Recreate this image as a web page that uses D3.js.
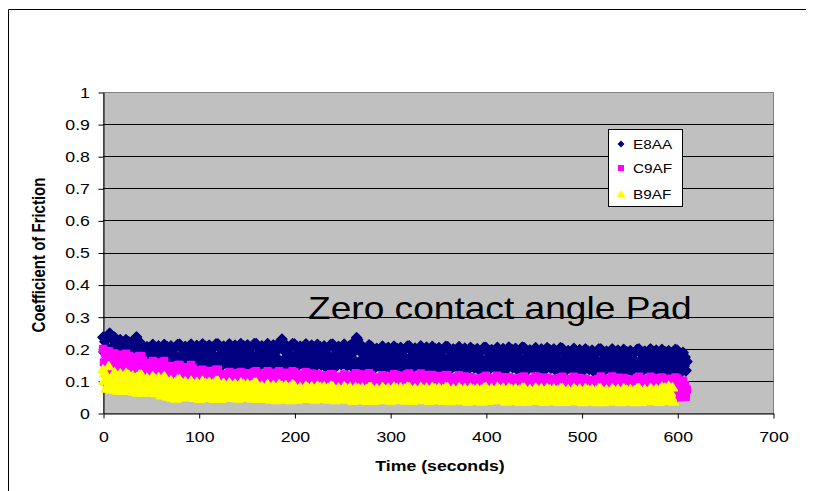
<!DOCTYPE html>
<html>
<head>
<meta charset="utf-8">
<script src="https://cdn.jsdelivr.net/npm/d3@7"></script>
<style>
  html, body { margin: 0; padding: 0; background: #ffffff; }
  svg { display: block; font-family: "Liberation Sans", Arial, sans-serif; }
</style>
</head>
<body>
<svg id="chart" width="817" height="491"></svg>
<script>
// Friction test log: coefficient of friction sampled once per second.
const sampleStep = 1; // seconds between logged samples
const seriesNames = ["E8AA", "C9AF", "B9AF"];
const chartNote = "Zero contact angle Pad";
const xTitle = "Time (seconds)";
const yTitle = "Coefficient of Friction";
const xTicks = [0, 100, 200, 300, 400, 500, 600, 700];
const xTickLabels = ["0", "100", "200", "300", "400", "500", "600", "700"];
const yTicks = [0, 0.1, 0.2, 0.3, 0.4, 0.5, 0.6, 0.7, 0.8, 0.9, 1];
const yTickLabels = ["0", "0.1", "0.2", "0.3", "0.4", "0.5", "0.6", "0.7", "0.8", "0.9", "1"];

const e8aa = [
  .236,.190,.222,.150,.205,.172,.244,.248,.200,.158,.230,.182,.236,.166,.214,.152,.196,.174,.228,.160,
  .200,.158,.214,.179,.228,.172,.193,.221,.165,.207,.182,.224,.161,.200,.232,.237,.158,.189,.222,.168,
  .213,.171,.199,.143,.185,.157,.206,.164,.192,.150,.178,.153,.213,.174,.202,.146,.188,.160,.209,.167,
  .185,.143,.199,.164,.213,.157,.178,.206,.150,.192,.167,.209,.146,.185,.160,.202,.143,.174,.213,.153,
  .214,.172,.200,.144,.186,.158,.207,.165,.193,.151,.179,.154,.214,.175,.203,.147,.189,.161,.210,.168,
  .187,.145,.201,.166,.215,.159,.180,.208,.152,.194,.169,.211,.148,.187,.162,.204,.145,.176,.215,.155,
  .215,.173,.201,.145,.187,.159,.208,.166,.194,.152,.180,.155,.215,.176,.204,.148,.190,.162,.211,.169,
  .188,.146,.202,.167,.216,.160,.181,.209,.153,.195,.170,.212,.149,.188,.163,.205,.146,.177,.216,.156,
  .216,.174,.202,.146,.188,.160,.209,.167,.195,.153,.181,.156,.216,.177,.205,.149,.191,.163,.212,.170,
  .188,.146,.202,.167,.216,.160,.226,.230,.153,.195,.170,.212,.149,.188,.163,.205,.146,.177,.216,.156,
  .215,.173,.201,.145,.187,.159,.208,.166,.194,.152,.180,.155,.215,.176,.204,.148,.190,.162,.211,.169,
  .185,.143,.199,.164,.213,.157,.178,.206,.150,.192,.167,.209,.146,.185,.160,.202,.143,.174,.213,.153,
  .214,.172,.200,.144,.186,.158,.207,.165,.193,.151,.179,.154,.214,.175,.203,.147,.189,.161,.210,.168,
  .184,.142,.198,.163,.226,.234,.228,.205,.149,.191,.166,.208,.145,.184,.159,.201,.142,.173,.212,.152,
  .208,.166,.194,.138,.180,.152,.201,.159,.187,.145,.173,.148,.208,.169,.197,.141,.183,.155,.204,.162,
  .180,.138,.194,.159,.208,.152,.173,.201,.145,.187,.162,.204,.141,.180,.155,.197,.138,.169,.208,.148,
  .209,.167,.195,.139,.181,.153,.202,.160,.188,.146,.174,.149,.209,.170,.198,.142,.184,.156,.205,.163,
  .179,.137,.193,.158,.207,.151,.172,.200,.144,.186,.161,.203,.140,.179,.154,.196,.137,.168,.207,.147,
  .206,.164,.192,.136,.178,.150,.199,.157,.185,.143,.171,.146,.206,.167,.195,.139,.181,.153,.202,.160,
  .176,.134,.190,.155,.204,.148,.169,.197,.141,.183,.158,.200,.137,.176,.151,.193,.134,.165,.204,.144,
  .204,.162,.190,.134,.176,.148,.197,.155,.183,.141,.169,.144,.204,.165,.193,.137,.179,.151,.200,.158,
  .177,.135,.191,.156,.205,.149,.170,.198,.142,.184,.159,.201,.138,.177,.152,.194,.135,.166,.205,.145,
  .203,.161,.189,.133,.175,.147,.196,.154,.182,.140,.168,.143,.203,.164,.192,.136,.178,.150,.199,.157,
  .175,.133,.189,.154,.203,.147,.168,.196,.140,.182,.157,.199,.136,.175,.150,.192,.133,.164,.203,.143,
  .201,.159,.187,.131,.173,.145,.194,.152,.180,.138,.166,.141,.201,.162,.190,.134,.176,.148,.197,.155,
  .171,.129,.185,.150,.199,.143,.164,.192,.136,.178,.153,.195,.132,.171,.146,.188,.129,.160,.199,.139,
  .199,.157,.185,.129,.171,.143,.192,.150,.178,.136,.164,.139,.199,.160,.188,.132,.174,.146,.195,.153,
  .170,.128,.184,.149,.198,.142,.163,.191,.135,.177,.152,.194,.131,.170,.145,.187,.128,.159,.198,.138,
  .199,.157,.185,.129,.171,.143,.192,.150,.178,.136,.164,.139,.199,.160,.188,.132,.174,.146,.195,.153,
  .170,.128,.184,.149,.198,.142,.163,.191,.135,.177,.152,.194,.131,.170,.145,.187,.128,.159,.198,.138,
  .195,.153,.181,.125,.167,.139,.188,.146,.174,.132,.160
];

const c9af = [
  .200,.158,.186,.130,.172,.144,.193,.151,.179,.137,.151,.126,.186,.147,.175,.119,.161,.133,.182,.140,
  .157,.115,.171,.136,.185,.129,.150,.178,.122,.164,.132,.174,.111,.150,.125,.167,.108,.139,.178,.118,
  .177,.135,.163,.107,.149,.106,.155,.113,.141,.099,.127,.102,.162,.123,.151,.095,.137,.109,.158,.116,
  .134,.092,.148,.113,.162,.094,.115,.143,.087,.129,.104,.146,.083,.122,.097,.139,.080,.111,.150,.090,
  .150,.108,.136,.080,.122,.094,.143,.101,.129,.087,.115,.090,.150,.111,.139,.069,.111,.083,.132,.090,
  .107,.065,.121,.086,.135,.079,.100,.128,.072,.114,.089,.131,.068,.107,.082,.124,.065,.096,.135,.075,
  .135,.093,.121,.065,.107,.072,.121,.079,.107,.065,.093,.068,.128,.089,.117,.061,.103,.075,.124,.082,
  .100,.058,.114,.079,.128,.072,.093,.121,.065,.107,.082,.124,.061,.100,.075,.117,.058,.089,.128,.068,
  .130,.088,.116,.060,.102,.074,.123,.081,.109,.067,.095,.070,.130,.091,.119,.063,.105,.077,.126,.084,
  .102,.060,.116,.081,.130,.074,.095,.123,.067,.109,.084,.126,.063,.102,.077,.119,.060,.091,.130,.070,
  .127,.085,.113,.057,.099,.071,.120,.078,.106,.064,.092,.067,.127,.088,.116,.060,.102,.074,.123,.081,
  .093,.051,.107,.072,.121,.065,.086,.114,.058,.100,.075,.117,.054,.093,.068,.110,.051,.082,.121,.061,
  .120,.078,.106,.050,.092,.064,.113,.071,.099,.057,.085,.060,.120,.081,.109,.053,.095,.067,.116,.074,
  .096,.054,.110,.075,.124,.068,.089,.117,.061,.103,.078,.120,.057,.096,.071,.113,.054,.085,.124,.064,
  .118,.076,.104,.048,.090,.062,.111,.069,.097,.055,.083,.058,.118,.079,.107,.051,.093,.065,.114,.072,
  .093,.051,.107,.072,.121,.065,.086,.114,.058,.100,.075,.117,.054,.093,.068,.110,.051,.082,.121,.061,
  .123,.081,.109,.053,.095,.067,.116,.074,.102,.060,.088,.063,.123,.084,.112,.056,.098,.070,.119,.077,
  .091,.049,.105,.070,.119,.063,.084,.112,.056,.098,.073,.115,.052,.091,.066,.108,.049,.080,.119,.059,
  .118,.076,.104,.048,.090,.062,.111,.069,.097,.055,.083,.058,.118,.079,.107,.051,.093,.065,.114,.072,
  .084,.042,.098,.063,.112,.056,.077,.105,.049,.091,.066,.108,.045,.084,.059,.101,.042,.073,.112,.052,
  .116,.074,.102,.046,.088,.060,.109,.067,.095,.053,.081,.056,.116,.077,.105,.049,.091,.063,.112,.070,
  .084,.042,.098,.063,.112,.056,.077,.105,.049,.091,.066,.108,.045,.084,.059,.101,.042,.073,.112,.052,
  .114,.072,.100,.044,.086,.058,.107,.065,.093,.051,.079,.054,.114,.075,.103,.047,.089,.061,.110,.068,
  .082,.040,.096,.061,.110,.054,.075,.103,.047,.089,.064,.106,.043,.082,.057,.099,.040,.071,.110,.050,
  .113,.071,.099,.043,.085,.057,.106,.064,.092,.050,.078,.053,.113,.074,.102,.046,.088,.060,.109,.067,
  .078,.036,.092,.057,.106,.050,.071,.099,.043,.085,.060,.102,.039,.078,.053,.095,.036,.067,.106,.046,
  .114,.072,.100,.044,.086,.058,.107,.065,.093,.051,.079,.054,.114,.075,.103,.047,.089,.061,.110,.068,
  .081,.039,.095,.060,.109,.053,.074,.102,.046,.088,.063,.105,.042,.081,.056,.098,.039,.070,.109,.049,
  .113,.071,.099,.043,.085,.057,.106,.064,.092,.050,.078,.053,.113,.074,.102,.046,.088,.060,.109,.067,
  .083,.041,.097,.062,.111,.055,.076,.104,.048,.090,.065,.107,.044,.083,.058,.100,.041,.072,.111,.051,
  .108,.066,.094,.049,.080,.052,.101,.059,.087,.050,.073
];

const b9af = [
  .136,.100,.124,.076,.112,.088,.146,.085,.109,.073,.097,.076,.127,.094,.118,.070,.106,.082,.124,.088,
  .103,.069,.114,.086,.125,.080,.097,.119,.075,.108,.084,.117,.067,.098,.078,.112,.064,.089,.120,.072,
  .120,.086,.109,.064,.098,.070,.109,.076,.098,.065,.087,.067,.115,.084,.107,.062,.095,.073,.112,.079,
  .091,.055,.103,.073,.115,.057,.075,.099,.051,.087,.066,.102,.048,.081,.060,.096,.045,.072,.105,.054,
  .105,.071,.094,.049,.083,.060,.099,.066,.088,.055,.072,.052,.100,.069,.092,.047,.080,.058,.097,.064,
  .078,.044,.089,.061,.100,.055,.072,.094,.050,.083,.064,.097,.047,.078,.058,.092,.044,.069,.100,.052,
  .100,.066,.089,.044,.078,.055,.094,.061,.083,.050,.070,.052,.095,.067,.087,.047,.077,.057,.092,.062,
  .075,.045,.085,.060,.095,.055,.070,.090,.050,.080,.062,.092,.047,.075,.057,.087,.045,.067,.095,.052,
  .095,.065,.085,.045,.075,.050,.085,.055,.075,.045,.065,.047,.090,.062,.082,.042,.072,.052,.087,.057,
  .070,.040,.080,.055,.090,.050,.065,.085,.045,.075,.057,.087,.042,.070,.052,.082,.040,.062,.090,.047,
  .085,.059,.076,.042,.068,.051,.081,.055,.072,.046,.063,.048,.085,.061,.079,.044,.070,.053,.083,.057,
  .068,.042,.076,.055,.085,.051,.063,.081,.046,.072,.057,.083,.044,.068,.053,.079,.042,.061,.085,.048,
  .083,.057,.074,.040,.066,.049,.079,.053,.070,.044,.061,.046,.083,.059,.077,.042,.068,.051,.081,.055,
  .064,.038,.072,.051,.081,.047,.059,.077,.042,.068,.053,.079,.040,.064,.049,.075,.038,.057,.081,.044,
  .081,.055,.072,.038,.064,.047,.077,.051,.068,.042,.059,.044,.081,.057,.075,.040,.066,.049,.079,.053,
  .065,.039,.073,.052,.082,.048,.060,.078,.043,.069,.054,.080,.041,.065,.050,.076,.039,.058,.082,.045,
  .081,.055,.072,.038,.064,.047,.077,.051,.068,.042,.059,.044,.081,.057,.075,.040,.066,.049,.079,.053,
  .064,.038,.072,.051,.081,.047,.059,.077,.042,.068,.053,.079,.040,.064,.049,.075,.038,.057,.081,.044,
  .080,.054,.071,.037,.063,.046,.076,.050,.067,.041,.058,.043,.080,.056,.074,.039,.065,.048,.078,.052,
  .062,.036,.070,.049,.079,.045,.057,.075,.040,.066,.051,.077,.038,.062,.047,.073,.036,.055,.079,.042,
  .081,.055,.072,.038,.064,.047,.077,.051,.068,.042,.059,.044,.081,.057,.075,.040,.066,.049,.079,.053,
  .062,.036,.070,.049,.079,.045,.057,.075,.040,.066,.051,.077,.038,.062,.047,.073,.036,.055,.079,.042,
  .079,.053,.070,.036,.062,.045,.075,.049,.066,.040,.057,.042,.079,.055,.073,.038,.064,.047,.077,.051,
  .061,.035,.069,.048,.078,.044,.056,.074,.039,.065,.050,.076,.037,.061,.046,.072,.035,.054,.078,.041,
  .078,.052,.069,.035,.061,.044,.074,.048,.065,.039,.056,.041,.078,.054,.072,.037,.063,.046,.076,.050,
  .060,.034,.068,.047,.077,.043,.055,.073,.038,.064,.049,.075,.036,.060,.045,.071,.034,.053,.077,.040,
  .077,.051,.068,.034,.060,.043,.073,.047,.064,.038,.055,.040,.077,.053,.071,.036,.062,.045,.075,.049,
  .060,.034,.068,.047,.077,.043,.055,.073,.038,.064,.049,.075,.036,.060,.045,.071,.034,.053,.077,.040,
  .078,.052,.069,.035,.061,.044,.074,.048,.065,.039,.056,.041,.078,.054,.072,.037,.063,.046,.076,.050,
  .064,.035,.074,.052,.082,.047,.060,.079,.041,.071,.054,.085,.038,.064,.049,.080,.036
];

const seriesColors = ["#000080", "#ff00ff", "#ffff00"];

const W = 817, H = 491;
const plot = { left: 103, right: 773, top: 92, bottom: 413 };
const textStretch = 1.18;
const fontStack = "'Liberation Sans', Arial, sans-serif";

const x = d3.scaleLinear().domain([0, 700]).range([plot.left, plot.right]);
const y = d3.scaleLinear().domain([0, 1]).range([plot.bottom, plot.top]);

const svg = d3.select("#chart");

// outer chart frame (top and left edges)
svg.append("path")
  .attr("d", `M8.5,${H} V9.5 H806`)
  .attr("fill", "none")
  .attr("stroke", "#000")
  .attr("stroke-width", 1);

// plot area
svg.append("rect")
  .attr("x", plot.left + 0.5).attr("y", plot.top + 0.5)
  .attr("width", plot.right - plot.left).attr("height", plot.bottom - plot.top)
  .attr("fill", "#c0c0c0")
  .attr("stroke", "#808080");

// horizontal gridlines
svg.append("g")
  .selectAll("line")
  .data(yTicks.filter(v => v > 0 && v < 1))
  .join("line")
  .attr("x1", plot.left).attr("x2", plot.right + 0.5)
  .attr("y1", d => Math.round(y(d)) + 0.5).attr("y2", d => Math.round(y(d)) + 0.5)
  .attr("stroke", "#000").attr("stroke-width", 1);

// axes
const yAxis = d3.axisLeft(y)
  .tickValues(yTicks)
  .tickFormat((d, i) => yTickLabels[i])
  .tickSize(5).tickSizeOuter(0).tickPadding(6.5);
const gy = svg.append("g")
  .attr("transform", `translate(${plot.left + 0.5},0.5)`)
  .call(yAxis)
  .attr("font-family", fontStack).attr("font-size", 15);
gy.select(".domain").attr("stroke", "#000");
gy.selectAll(".tick line").attr("stroke", "#000");
gy.selectAll(".tick text").attr("fill", "#000").attr("transform", `scale(${textStretch},1)`);

const xAxis = d3.axisBottom(x)
  .tickValues(xTicks)
  .tickFormat((d, i) => xTickLabels[i])
  .tickSize(5).tickSizeOuter(0).tickPadding(13);
const gx = svg.append("g")
  .attr("transform", `translate(0.5,${plot.bottom + 0.5})`)
  .call(xAxis)
  .attr("font-family", fontStack).attr("font-size", 15);
gx.select(".domain").attr("stroke", "#000");
gx.selectAll(".tick line").attr("stroke", "#000");
gx.selectAll(".tick text").attr("fill", "#000").attr("transform", `scale(${textStretch},1)`);

// marker shapes
const markerPath = [
  h => `M0,${-h}L${h},0L0,${h}L${-h},0Z`,
  h => `M${-h},${-h}H${h}V${h}H${-h}Z`,
  h => `M0,${-h}L${h * 1.12},${h * 0.78}L${-h * 1.12},${h * 0.78}Z`
];
const markerSize = [5, 3.4, 4.4];

// data series, drawn in legend order; markers carry a same-colour border
[e8aa, c9af, b9af].forEach((vals, s) => {
  svg.append("g")
    .attr("fill", seriesColors[s])
    .attr("stroke", seriesColors[s])
    .attr("stroke-width", 1.5)
    .attr("stroke-linejoin", "round")
    .selectAll("path")
    .data(vals)
    .join("path")
    .attr("transform", (d, i) => `translate(${x(i * sampleStep)},${y(d)})`)
    .attr("d", markerPath[s](markerSize[s]));
});

// legend
const legend = svg.append("g");
legend.append("rect")
  .attr("x", 608.5).attr("y", 129.5).attr("width", 74).attr("height", 77)
  .attr("fill", "#fff").attr("stroke", "#000");
const legendY = [144, 168, 194];
const legendMarker = [3.5, 3, 4];
seriesNames.forEach((name, s) => {
  legend.append("path")
    .attr("transform", `translate(621,${legendY[s]})`)
    .attr("d", markerPath[s](legendMarker[s]))
    .attr("fill", seriesColors[s]);
  legend.append("text")
    .attr("transform", `translate(633,${legendY[s] + 5}) scale(${textStretch},1)`)
    .attr("font-family", fontStack).attr("font-size", 13)
    .attr("fill", "#000")
    .text(name);
});

// annotation
svg.append("text")
  .attr("transform", `translate(308,319) scale(1.16,1)`)
  .attr("font-family", fontStack).attr("font-size", 32)
  .attr("fill", "#000")
  .text(chartNote);

// axis titles
svg.append("text")
  .attr("transform", `translate(440,471) scale(${textStretch},1)`)
  .attr("text-anchor", "middle")
  .attr("font-family", fontStack).attr("font-size", 15).attr("font-weight", "bold")
  .attr("fill", "#000")
  .text(xTitle);

svg.append("text")
  .attr("transform", `translate(45,255) scale(${textStretch},1) rotate(-90)`)
  .attr("text-anchor", "middle")
  .attr("font-family", fontStack).attr("font-size", 15).attr("font-weight", "bold")
  .attr("fill", "#000")
  .text(yTitle);
</script>
</body>
</html>
